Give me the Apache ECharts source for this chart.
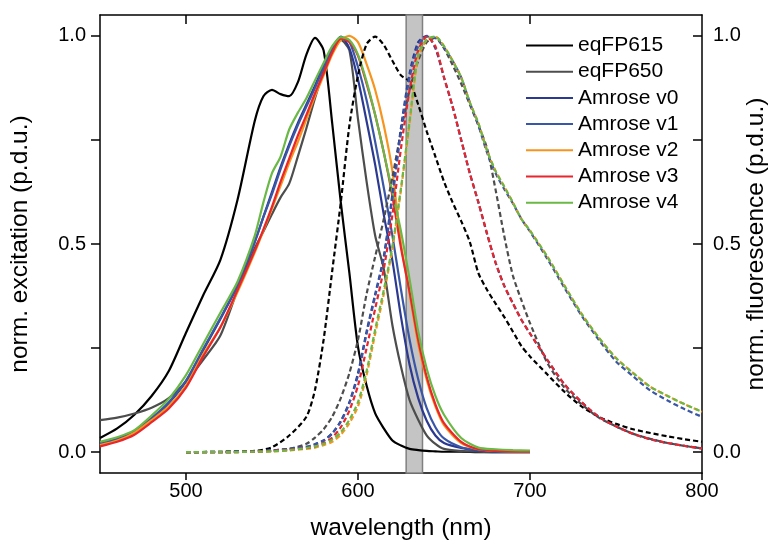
<!DOCTYPE html>
<html>
<head>
<meta charset="utf-8">
<title>Amrose excitation / emission</title>
<script src="https://cdn.jsdelivr.net/npm/echarts@6/dist/echarts.min.js"></script>
<style>
  html, body { margin: 0; padding: 0; background: #fff; }
  #main { width: 771px; height: 547px; }
</style>
</head>
<body>
<div id="main"></div>
<script>
// wavelength grids (nm)
var exWl = [450, 460, 470, 480, 490, 500, 510, 520, 530, 540,
            545, 550, 555, 560, 565, 570, 575, 580, 585, 590,
            595, 600, 605, 610, 615, 620, 625, 630, 635, 640,
            645, 650, 660, 670, 680, 690, 700];
var emWl = [500, 520, 540, 550, 560, 570, 575, 580, 585, 590,
            595, 600, 605, 610, 615, 620, 625, 630, 635, 640,
            645, 650, 655, 660, 665, 670, 675, 680, 685, 690,
            695, 700, 710, 720, 730, 740, 750, 760, 770, 780,
            790, 800];

var names = ['eqFP615', 'eqFP650', 'Amrose v0', 'Amrose v1', 'Amrose v2', 'Amrose v3', 'Amrose v4'];
var colors = ['#000000', '#4d4d4d', '#2b3990', '#3a56a6', '#f7941d', '#e8262b', '#6ab845'];

// normalized excitation
var exFP615 = [0.034, 0.057, 0.09, 0.135, 0.195, 0.287, 0.377, 0.462, 0.607, 0.796,
               0.855, 0.870, 0.860, 0.855, 0.888, 0.955, 0.995, 0.965, 0.79, 0.60,
               0.43, 0.253, 0.16, 0.093, 0.057, 0.028, 0.016, 0.008, 0.005, 0.003,
               0.002, 0.001, 0.001, 0, 0, 0, 0];
var exFP650 = [0.077, 0.083, 0.093, 0.107, 0.13, 0.17, 0.222, 0.28, 0.39, 0.49,
               0.53, 0.572, 0.612, 0.645, 0.71, 0.778, 0.85, 0.915, 0.96, 0.99,
               0.965, 0.80, 0.65, 0.52, 0.44, 0.305, 0.205, 0.125, 0.078, 0.04,
               0.02, 0.008, 0.003, 0.001, 0, 0, 0];
var exV0 = [0.02, 0.031, 0.05, 0.08, 0.118, 0.17, 0.245, 0.32, 0.40, 0.505,
            0.565, 0.625, 0.685, 0.74, 0.79, 0.835, 0.88, 0.93, 0.97, 0.998,
            0.97, 0.895, 0.795, 0.69, 0.57, 0.46, 0.325, 0.21, 0.13, 0.075,
            0.04, 0.022, 0.01, 0.004, 0.002, 0.001, 0.001];
var exV1 = [0.02, 0.032, 0.051, 0.082, 0.12, 0.172, 0.248, 0.322, 0.402, 0.505,
            0.565, 0.62, 0.68, 0.735, 0.785, 0.83, 0.875, 0.925, 0.968, 0.997,
            0.985, 0.925, 0.845, 0.745, 0.635, 0.52, 0.39, 0.27, 0.175, 0.105,
            0.06, 0.033, 0.012, 0.005, 0.002, 0.001, 0.001];
var exV2 = [0.017, 0.028, 0.047, 0.077, 0.11, 0.16, 0.235, 0.30, 0.385, 0.48,
            0.532, 0.585, 0.64, 0.695, 0.745, 0.80, 0.855, 0.905, 0.955, 0.99,
            1.0, 0.985, 0.932, 0.87, 0.785, 0.675, 0.50, 0.38, 0.26, 0.173,
            0.11, 0.065, 0.022, 0.007, 0.003, 0.002, 0.002];
var exV3 = [0.014, 0.025, 0.042, 0.072, 0.105, 0.155, 0.23, 0.30, 0.39, 0.484,
            0.535, 0.59, 0.65, 0.705, 0.76, 0.81, 0.862, 0.91, 0.96, 0.993,
            0.985, 0.952, 0.885, 0.81, 0.72, 0.615, 0.49, 0.385, 0.27, 0.18,
            0.115, 0.07, 0.025, 0.007, 0.003, 0.002, 0.002];
var exV4 = [0.025, 0.036, 0.053, 0.088, 0.128, 0.185, 0.26, 0.335, 0.41, 0.52,
            0.60, 0.67, 0.71, 0.775, 0.815, 0.85, 0.893, 0.935, 0.975, 0.997,
            0.99, 0.955, 0.89, 0.81, 0.72, 0.625, 0.53, 0.415, 0.29, 0.20,
            0.135, 0.09, 0.034, 0.011, 0.007, 0.005, 0.004];

// normalized fluorescence
var emFP615 = [0, 0.001, 0.003, 0.012, 0.04, 0.085, 0.15, 0.27, 0.435, 0.60,
               0.785, 0.905, 0.98, 0.998, 0.978, 0.94, 0.905, 0.89, 0.835, 0.77,
               0.71, 0.65, 0.60, 0.555, 0.505, 0.43, 0.39, 0.357, 0.325, 0.29,
               0.255, 0.23, 0.187, 0.145, 0.11, 0.085, 0.068, 0.055, 0.046, 0.038,
               0.031, 0.025];
var emFP650 = [0, 0.001, 0.002, 0.004, 0.008, 0.02, 0.035, 0.055, 0.085, 0.13,
               0.19, 0.27, 0.38, 0.47, 0.56, 0.66, 0.77, 0.87, 0.94, 0.985,
               0.995, 0.97, 0.93, 0.885, 0.835, 0.785, 0.73, 0.63, 0.52, 0.425,
               0.365, 0.31, 0.215, 0.155, 0.115, 0.083, 0.062, 0.044, 0.032, 0.022,
               0.015, 0.009];
var emV0 = [0, 0, 0.002, 0.004, 0.008, 0.013, 0.019, 0.028, 0.045, 0.075,
            0.12, 0.19, 0.29, 0.38, 0.47, 0.62, 0.78, 0.91, 0.985, 1.0,
            0.97, 0.90, 0.83, 0.75, 0.67, 0.60, 0.525, 0.455, 0.40, 0.358,
            0.318, 0.285, 0.222, 0.163, 0.12, 0.085, 0.062, 0.044, 0.031, 0.022,
            0.015, 0.009];
var emV1 = [0, 0, 0.002, 0.004, 0.008, 0.013, 0.019, 0.028, 0.045, 0.073,
            0.118, 0.185, 0.285, 0.375, 0.465, 0.61, 0.77, 0.90, 0.975, 0.998,
            0.995, 0.972, 0.94, 0.90, 0.84, 0.785, 0.72, 0.67, 0.632, 0.598,
            0.56, 0.53, 0.465, 0.395, 0.328, 0.27, 0.218, 0.182, 0.148, 0.124,
            0.103, 0.085];
var emV2 = [0, 0, 0.001, 0.002, 0.004, 0.008, 0.011, 0.017, 0.025, 0.042,
            0.07, 0.11, 0.185, 0.285, 0.38, 0.49, 0.63, 0.79, 0.95, 0.99,
            0.998, 0.975, 0.94, 0.90, 0.84, 0.79, 0.725, 0.675, 0.638, 0.60,
            0.56, 0.532, 0.47, 0.40, 0.332, 0.275, 0.226, 0.19, 0.157, 0.135,
            0.115, 0.097];
var emV3 = [0, 0, 0.001, 0.003, 0.006, 0.01, 0.014, 0.022, 0.035, 0.06,
            0.10, 0.16, 0.25, 0.345, 0.44, 0.57, 0.73, 0.87, 0.965, 0.998,
            0.975, 0.90, 0.83, 0.75, 0.67, 0.60, 0.525, 0.455, 0.40, 0.358,
            0.318, 0.285, 0.222, 0.163, 0.12, 0.085, 0.062, 0.044, 0.031, 0.022,
            0.015, 0.009];
var emV4 = [0, 0, 0.001, 0.002, 0.005, 0.01, 0.014, 0.02, 0.03, 0.048,
            0.078, 0.12, 0.195, 0.295, 0.39, 0.495, 0.635, 0.795, 0.955, 0.992,
            0.998, 0.975, 0.94, 0.90, 0.84, 0.79, 0.725, 0.675, 0.638, 0.60,
            0.56, 0.532, 0.47, 0.40, 0.332, 0.275, 0.226, 0.19, 0.157, 0.135,
            0.115, 0.097];

var exData = [exFP615, exFP650, exV0, exV1, exV2, exV3, exV4];
var emData = [emFP615, emFP650, emV0, emV1, emV2, emV3, emV4];

// filter band (nm)
var bandFrom = 628, bandTo = 637.5;

function pairs(wl, vals) {
    return wl.map(function (w, i) { return [w, vals[i]]; });
}

var series = [];
names.forEach(function (name, i) {
    series.push({
        name: name,
        type: 'line',
        data: pairs(exWl, exData[i]),
        symbol: 'none',
        smooth: 0.25,
        z: 3,
        lineStyle: { color: colors[i], width: 2.2 },
        itemStyle: { color: colors[i] }
    });
});
names.forEach(function (name, i) {
    series.push({
        name: name + ' em',
        type: 'line',
        yAxisIndex: 1,
        data: pairs(emWl, emData[i]),
        symbol: 'none',
        smooth: 0.25,
        z: 3,
        lineStyle: { color: colors[i], width: 2.2, type: [5, 3] },
        itemStyle: { color: colors[i] }
    });
});
// grey band behind the curves
series.push({
    name: 'band',
    type: 'line',
    data: [],
    z: 1,
    markArea: {
        silent: true,
        itemStyle: { color: '#c4c4c4', borderColor: '#808080', borderWidth: 1.5 },
        data: [[{ xAxis: bandFrom }, { xAxis: bandTo }]]
    }
});

var font = 'Liberation Sans, Arial, sans-serif';
var yFmt = function (v) { return v.toFixed(1); };

var option = {
    animation: false,
    backgroundColor: '#fff',
    textStyle: { fontFamily: font, color: '#000' },
    grid: { left: 100, right: 69, top: 15, bottom: 74, containLabel: false, outerBoundsMode: 'none' },
    legend: {
        data: names,
        orient: 'vertical',
        left: 526,
        top: 35,
        padding: 0,
        align: 'left',
        icon: 'rect',
        itemWidth: 47,
        itemHeight: 2,
        itemGap: 5.2,
        selectedMode: false,
        textStyle: { fontSize: 21, lineHeight: 19, color: '#000', fontFamily: font }
    },
    xAxis: [{
        type: 'value', min: 450, max: 800, position: 'bottom',
        name: 'wavelength (nm)', nameLocation: 'middle', nameGap: 43,
        nameMoveOverlap: false,
        nameTextStyle: { fontSize: 24.5, color: '#000', fontFamily: font },
        axisLine: { show: true, onZero: false, lineStyle: { color: '#000', width: 1.5 } },
        axisTick: { show: true, inside: false, length: 7, customValues: [500, 600, 700, 800], lineStyle: { color: '#000', width: 1.5 } },
        axisLabel: { customValues: [500, 600, 700, 800], fontSize: 20, color: '#000', margin: 8 },
        splitLine: { show: false }
    }, {
        type: 'value', min: 450, max: 800, position: 'top',
        axisLine: { show: true, onZero: false, lineStyle: { color: '#000', width: 1.5 } },
        axisTick: { show: true, inside: true, length: 9, customValues: [500, 600, 700], lineStyle: { color: '#000', width: 1.5 } },
        axisLabel: { show: false },
        splitLine: { show: false }
    }],
    yAxis: [{
        type: 'value', min: -0.05, max: 1.05, position: 'left',
        name: 'norm. excitation (p.d.u.)', nameLocation: 'middle', nameGap: 67, nameRotate: 90,
        nameMoveOverlap: false,
        nameTextStyle: { fontSize: 24.5, color: '#000', fontFamily: font },
        axisLine: { show: true, onZero: false, lineStyle: { color: '#000', width: 1.5 } },
        axisTick: { show: true, inside: false, length: 9, customValues: [0, 0.25, 0.5, 0.75, 1], lineStyle: { color: '#000', width: 1.5 } },
        axisLabel: { customValues: [0, 0.5, 1], formatter: yFmt, fontSize: 20, color: '#000', margin: 14 },
        splitLine: { show: false }
    }, {
        type: 'value', min: -0.05, max: 1.05, position: 'right',
        name: 'norm. fluorescence (p.d.u.)', nameLocation: 'middle', nameGap: 42, nameRotate: 90,
        nameMoveOverlap: false,
        nameTextStyle: { fontSize: 24.5, color: '#000', fontFamily: font },
        axisLine: { show: true, onZero: false, lineStyle: { color: '#000', width: 1.5 } },
        axisTick: { show: true, inside: true, length: 9, customValues: [0, 0.25, 0.5, 0.75, 1], lineStyle: { color: '#000', width: 1.5 } },
        axisLabel: { customValues: [0, 0.5, 1], formatter: yFmt, fontSize: 20, color: '#000', margin: 11 },
        splitLine: { show: false }
    }],
    series: series
};

var myChart = echarts.init(document.getElementById('main'));
myChart.setOption(option);
</script>
</body>
</html>
